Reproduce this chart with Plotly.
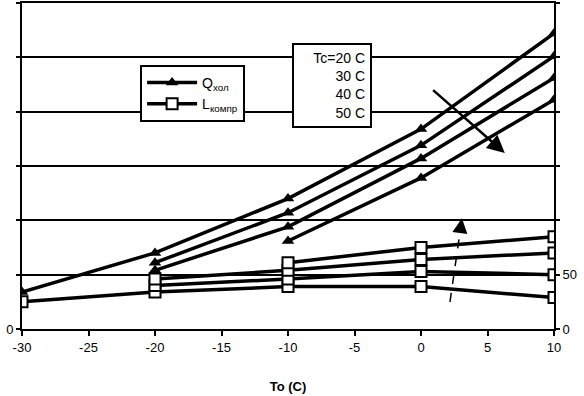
import plotly.graph_objects as go

# ---- data ----
x_20 = [-30, -20, -10, 0, 10]
x_30 = [-20, -10, 0, 10]
x_40 = [-20, -10, 0, 10]
x_50 = [-10, 0, 10]

q_tc20 = [34, 70, 120, 184, 272]
q_tc30 = [61, 107, 169, 251]
q_tc40 = [54, 94, 157, 231]
q_tc50 = [81, 139, 211]

l_tc20 = [25, 34, 39, 39, 29]
l_tc30 = [40, 46, 53, 50]
l_tc40 = [46, 54, 64, 70]
l_tc50 = [61, 75, 85]

x_ticks = [-30, -25, -20, -15, -10, -5, 0, 5, 10]
grid_vals = [50, 100, 150, 200, 250, 300]
left_labels = [0]
right_labels = [0, 50]
right_minor = [100, 150, 200, 250, 300]

tc_labels = ["Tc=20 C", "30 C", "40 C", "50 C"]

FONT = "Liberation Sans, Arial, sans-serif"

fig = go.Figure()

q_sets = [(x_20, q_tc20), (x_30, q_tc30), (x_40, q_tc40), (x_50, q_tc50)]
l_sets = [(x_20, l_tc20), (x_30, l_tc30), (x_40, l_tc40), (x_50, l_tc50)]

for i, (xs, ys) in enumerate(q_sets):
    fig.add_trace(go.Scatter(
        x=xs, y=ys, mode="lines+markers",
        line=dict(color="black", width=3.5),
        marker=dict(symbol="triangle-up", size=11, color="black"),
        name="Q<sub>хол</sub>", showlegend=(i == 0), legendrank=1,
    ))

for i, (xs, ys) in enumerate(l_sets):
    fig.add_trace(go.Scatter(
        x=xs, y=ys, mode="lines+markers",
        line=dict(color="black", width=3.5),
        marker=dict(symbol="square", size=11, color="white",
                    line=dict(color="black", width=2)),
        name="L<sub>компр</sub>", showlegend=(i == 0), legendrank=2,
    ))

# dummy trace to enable right axis
fig.add_trace(go.Scatter(x=[None], y=[None], yaxis="y2", showlegend=False))

# Tc box
fig.add_annotation(
    x=0.508, y=0.878, xref="paper", yref="paper", xanchor="left", yanchor="top",
    text="<br>".join(tc_labels), align="right", showarrow=False,
    font=dict(family=FONT, size=14, color="black"),
    bordercolor="black", borderwidth=2, bgcolor="white", borderpad=5,
    width=66,
)

# arrows
fig.add_annotation(x=6.3, y=162, ax=0.8, ay=221, xref="x", yref="y",
                   axref="x", ayref="y", showarrow=True, text="",
                   arrowhead=2, arrowsize=1.4, arrowwidth=2.5, arrowcolor="black")
fig.add_shape(type="line", x0=2.18, y0=25, x1=3.0, y1=95, xref="x", yref="y",
              line=dict(color="black", width=1.5, dash="dash"))
fig.add_annotation(x=3.08, y=102, ax=3.0, ay=95, xref="x", yref="y",
                   axref="x", ayref="y", showarrow=True, text="",
                   arrowhead=2, arrowsize=2, arrowwidth=1.5, arrowcolor="black")

minor_common = dict(ticks="outside", ticklen=4, tickwidth=2, tickcolor="black")

fig.update_layout(
    width=584, height=396,
    margin=dict(l=22, r=30, t=3, b=67, autoexpand=False),
    plot_bgcolor="white", paper_bgcolor="white",
    font=dict(family=FONT, size=13, color="black"),
    xaxis=dict(
        range=[-30, 10], tickvals=x_ticks, ticktext=[str(v) for v in x_ticks],
        showgrid=False, zeroline=False, showline=True, linecolor="black",
        linewidth=2, mirror=True, ticks="outside", ticklen=5, tickwidth=2,
        tickcolor="black",
        title=dict(text="<b>To (C)</b>", font=dict(size=13), standoff=28),
        tickfont=dict(size=13), automargin=False,
    ),
    yaxis=dict(
        range=[0, 300], tickvals=left_labels, ticktext=[str(v) for v in left_labels],
        showgrid=False, zeroline=False,
        showline=True, linecolor="black", linewidth=2,
        ticks="outside", ticklen=4, tickwidth=2, tickcolor="black",
        tickfont=dict(size=13), automargin=False,
        minor=dict(tickvals=grid_vals, showgrid=True, gridcolor="black",
                   gridwidth=2, **minor_common),
    ),
    yaxis2=dict(
        range=[0, 300], tickvals=right_labels, ticktext=[str(v) for v in right_labels],
        overlaying="y", side="right", showgrid=False, zeroline=False,
        showline=True, linecolor="black", linewidth=2,
        ticks="outside", ticklen=4, tickwidth=2, tickcolor="black",
        tickfont=dict(size=13), automargin=False,
        minor=dict(tickvals=right_minor, showgrid=False, **minor_common),
    ),
    legend=dict(
        x=0.222, y=0.81, xanchor="left", yanchor="top",
        bgcolor="white", bordercolor="black", borderwidth=2,
        font=dict(family=FONT, size=14), tracegroupgap=6,
        itemwidth=50,
    ),
    showlegend=True,
)

fig.write_html(
    "out.html",
    config={"displayModeBar": False},
    post_script="document.body.style.margin='0';document.body.style.padding='0';",
)
